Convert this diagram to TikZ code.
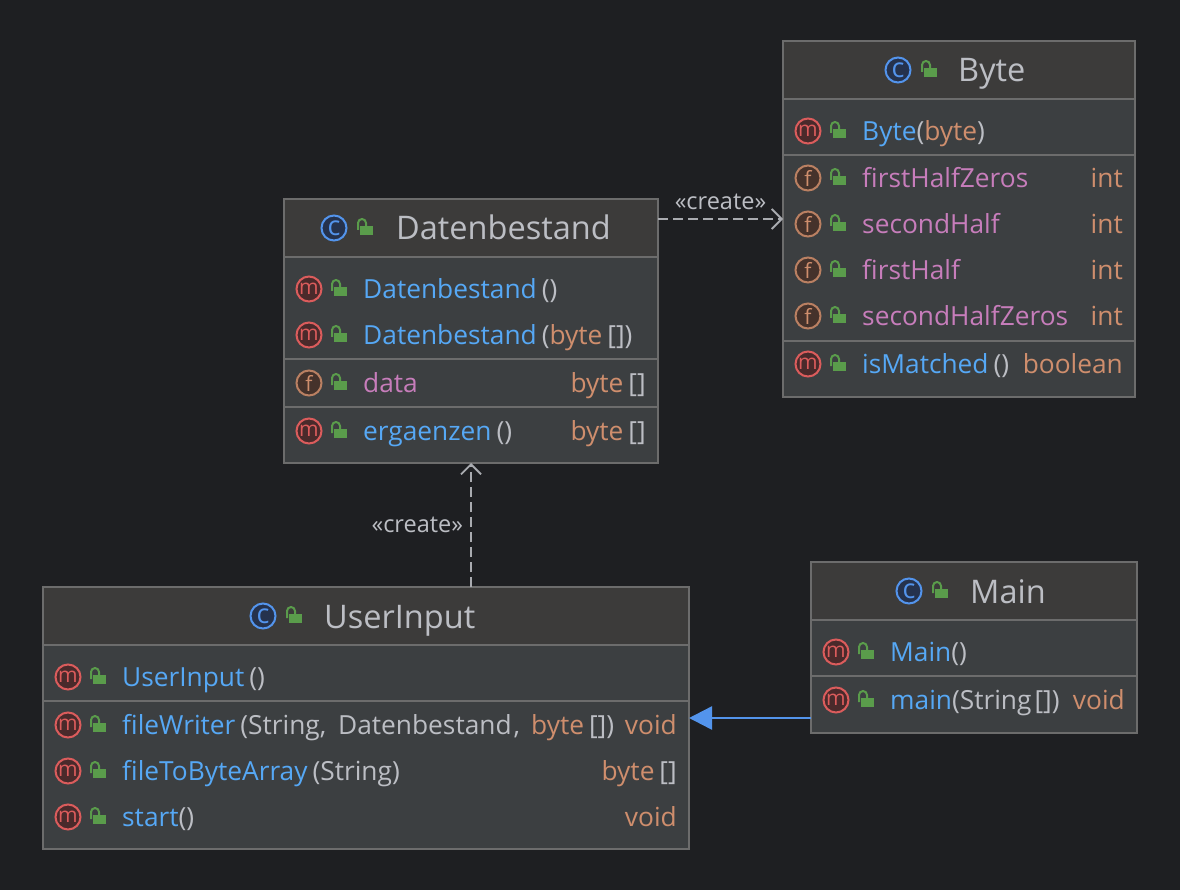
\documentclass[tikz,border=0pt]{standalone}
\usepackage{fontspec}
\setmainfont{Open Sans}
\usetikzlibrary{arrows.meta,calc}

\definecolor{canvas}{HTML}{1E1F22}
\definecolor{boxbody}{HTML}{3C3F41}
\definecolor{boxhead}{HTML}{3C3B3A}
\definecolor{boxline}{HTML}{6C6C6C}
\definecolor{txtgray}{HTML}{BCBEC4}
\definecolor{txtblue}{HTML}{56A8F5}
\definecolor{txtorange}{HTML}{CF8E6D}
\definecolor{txtpink}{HTML}{C77DBB}
\definecolor{lockgreen}{HTML}{5A9C4B}
\definecolor{linkblue}{HTML}{5394EC}
\definecolor{iconmline}{HTML}{DB5C5C}
\definecolor{iconmfill}{HTML}{4A2A2B}
\definecolor{iconffill}{HTML}{45322B}
\definecolor{iconcfill}{HTML}{25324D}

\newcommand{\mn}[1]{\textcolor{txtblue}{#1}}
\newcommand{\fn}[1]{\textcolor{txtpink}{#1}}
\newcommand{\tn}[1]{\textcolor{txtorange}{#1}}
\newcommand{\pn}[1]{\hspace{5pt}\textcolor{txtgray}{#1}}

\tikzset{
  classbox/.style={draw=boxline, fill=boxbody, line width=1.5pt, anchor=north west, outer sep=0pt, inner sep=0pt},
  rowtext/.style={font=\fontsize{26.3}{30}\selectfont, inner sep=0pt, text=txtgray},
  headtext/.style={font=\fontsize{32.5}{36}\selectfont, inner sep=0pt, anchor=base west, text=txtgray},
  iconm/.style={circle, draw=iconmline, fill=iconmfill, text=iconmline, line width=2pt, minimum size=25pt, inner sep=0pt, font=\fontsize{21}{21}\selectfont},
  iconf/.style={iconm, draw=txtorange!90!black, fill=iconffill, text=txtorange},
  iconc/.style={iconm, draw=linkblue, fill=iconcfill, text=linkblue, font=\fontsize{27}{27}\selectfont},
  rowline/.style={draw=boxline, line width=2pt},
  createdep/.style={draw=txtgray!90!black, line width=2pt, dash pattern=on 10pt off 5pt, -{Straight Barb[length=10pt,width=20pt,line width=1.8pt]}},
  createlabel/.style={font=\fontsize{23.5}{27}\selectfont, text=txtgray, inner sep=0pt},
  lockicon/.pic={
    \fill[lockgreen] (-4.7,-2) rectangle (8,7.2);
    \draw[lockgreen, line width=2pt] (-7,2) -- (-7,-5) arc[start angle=180,end angle=360,radius=4] -- (1,-2);
  }
}

% box, tag, kind, row offset, text, type
\newcommand{\memberrow}[6]{
  \node[icon#3] (#1-#2-icon) at ([shift={(25,#4)}]#1.north west) {#3};
  \pic at ([shift={(55,#4)}]#1.north west) {lockicon};
  \node[rowtext, anchor=base west] (#1-#2-name) at ([shift={(79,#4+9.5)}]#1.north west) {#5};
  \node[rowtext, anchor=base east] (#1-#2-type) at ([shift={(-12,#4+9.5)}]#1.north east) {\tn{#6}};
}
% box, icon offset, title, title offset
\newcommand{\classhead}[4]{
  \fill[boxhead] (#1.north west) rectangle ([yshift=-58pt]#1.north east);
  \draw[boxline, line width=1.5pt] (#1.north west) rectangle (#1.south east);
  \draw[rowline] ([yshift=-58pt]#1.north west) -- ([yshift=-58pt]#1.north east);
  \node[iconc] (#1-icon) at ([shift={(#2,29)}]#1.north west) {c};
  \pic at ([shift={(#2+31,29)}]#1.north west) {lockicon};
  \node[headtext] (#1-title) at ([shift={(#4,41)}]#1.north west) {#3};
}

\begin{document}
\begin{tikzpicture}[x=1pt,y=-1pt, >=Stealth]
  \fill[canvas] (0,0) rectangle (1180,890);
  \useasboundingbox (0,0) rectangle (1180,890);

  \node[classbox, minimum width=374pt, minimum height=264pt] (datenbestand) at (284,199) {};
  \node[classbox, minimum width=352pt, minimum height=356pt] (byte) at (783,41) {};
  \node[classbox, minimum width=646pt, minimum height=262pt] (userinput) at (43,587) {};
  \node[classbox, minimum width=326pt, minimum height=171pt] (mainclass) at (811,562) {};

  % Datenbestand
  \classhead{datenbestand}{50}{Datenbestand}{112}
  \memberrow{datenbestand}{ctor}{m}{90}{\mn{Datenbestand}\pn{()}}{}
  \memberrow{datenbestand}{ctorb}{m}{136}{\mn{Datenbestand}\pn{(}\tn{byte}\pn{[])}}{}
  \memberrow{datenbestand}{data}{f}{184}{\fn{data}}{byte\pn{[]}}
  \memberrow{datenbestand}{erg}{m}{232}{\mn{ergaenzen}\pn{()}}{byte\pn{[]}}
  \foreach \y in {160,208} { \draw[rowline] ([yshift=-\y pt]datenbestand.north west) -- ([yshift=-\y pt]datenbestand.north east); }

  % Byte
  \classhead{byte}{115}{Byte}{175}
  \memberrow{byte}{ctor}{m}{90}{\mn{Byte}\textcolor{txtgray}{(}\tn{byte}\textcolor{txtgray}{)}}{}
  \memberrow{byte}{fhz}{f}{137}{\fn{firstHalfZeros}}{int}
  \memberrow{byte}{sh}{f}{183}{\fn{secondHalf}}{int}
  \memberrow{byte}{fh}{f}{229}{\fn{firstHalf}}{int}
  \memberrow{byte}{shz}{f}{275}{\fn{secondHalfZeros}}{int}
  \memberrow{byte}{match}{m}{323}{\mn{isMatched}\pn{()}}{boolean}
  \foreach \y in {114,300} { \draw[rowline] ([yshift=-\y pt]byte.north west) -- ([yshift=-\y pt]byte.north east); }

  % UserInput
  \classhead{userinput}{220}{UserInput}{281}
  \memberrow{userinput}{ctor}{m}{90}{\mn{UserInput}\pn{()}}{}
  \memberrow{userinput}{write}{m}{138}{\mn{fileWriter}\pn{(String, \hspace{5pt}Datenbestand\hspace{2pt},}\hspace{11pt}\tn{byte}\pn{[])}}{void}
  \memberrow{userinput}{read}{m}{184}{\mn{fileToByteArray}\pn{(String)}}{byte\pn{[]}}
  \memberrow{userinput}{start}{m}{230}{\mn{start}\textcolor{txtgray}{()}}{void}
  \draw[rowline] ([yshift=-114pt]userinput.north west) -- ([yshift=-114pt]userinput.north east);

  % Main
  \classhead{mainclass}{98}{Main}{159}
  \memberrow{mainclass}{ctor}{m}{90}{\mn{Main}\textcolor{txtgray}{()}}{}
  \memberrow{mainclass}{run}{m}{138}{\mn{main}\textcolor{txtgray}{(String\hspace{3pt}[])}}{void}
  \draw[rowline] ([yshift=-114pt]mainclass.north west) -- ([yshift=-114pt]mainclass.north east);

  \draw[createdep] (datenbestand.east |- byte.west) -- node[createlabel, above=8pt] (createbyte) {«create»} (byte.west);
  \draw[createdep] (datenbestand.south |- userinput.north) -- node[createlabel, left=7pt] (createdaten) {«create»} (datenbestand.south);
  \draw[linkblue, line width=2.5pt, -{Triangle[length=23pt,width=23pt]}] (mainclass.west |- userinput.east) -- (userinput.east);
\end{tikzpicture}
\end{document}
